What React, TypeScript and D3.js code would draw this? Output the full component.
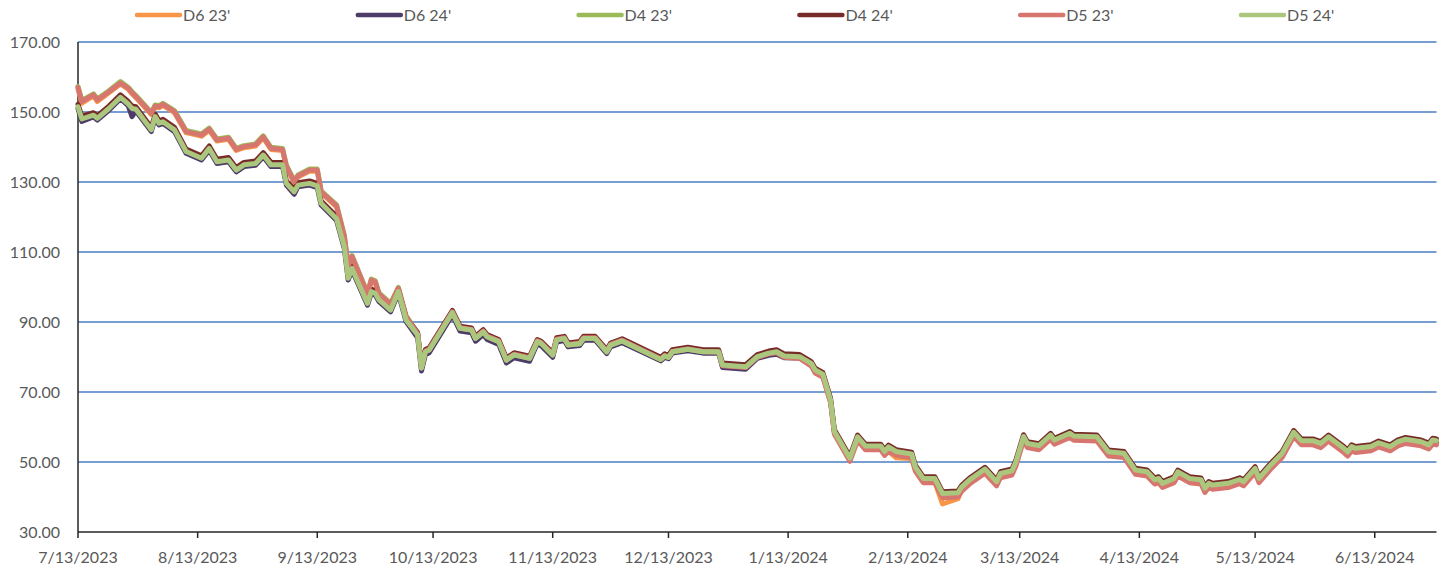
import React, { useEffect, useRef } from "react";
import * as d3 from "d3";

// trading dates
const dates = [
  "2023-07-13", "2023-07-14", "2023-07-17", "2023-07-18", "2023-07-21", "2023-07-24", "2023-07-26", "2023-07-27", "2023-07-28",
  "2023-08-01", "2023-08-02", "2023-08-03", "2023-08-04", "2023-08-07", "2023-08-10", "2023-08-14", "2023-08-16", "2023-08-18",
  "2023-08-21", "2023-08-23", "2023-08-25", "2023-08-28", "2023-08-30", "2023-09-01", "2023-09-04", "2023-09-05", "2023-09-07",
  "2023-09-08", "2023-09-11", "2023-09-13", "2023-09-14", "2023-09-18", "2023-09-20", "2023-09-21", "2023-09-22", "2023-09-26",
  "2023-09-27", "2023-09-28", "2023-09-29", "2023-10-02", "2023-10-04", "2023-10-06", "2023-10-09", "2023-10-10", "2023-10-11",
  "2023-10-12", "2023-10-18", "2023-10-20", "2023-10-23", "2023-10-24", "2023-10-26", "2023-10-27", "2023-10-30", "2023-11-01",
  "2023-11-03", "2023-11-07", "2023-11-09", "2023-11-10", "2023-11-13", "2023-11-14", "2023-11-16", "2023-11-17", "2023-11-20",
  "2023-11-21", "2023-11-24", "2023-11-27", "2023-11-28", "2023-12-01", "2023-12-11", "2023-12-12", "2023-12-13", "2023-12-14",
  "2023-12-18", "2023-12-22", "2023-12-26", "2023-12-27", "2024-01-02", "2024-01-05", "2024-01-08", "2024-01-10", "2024-01-12",
  "2024-01-16", "2024-01-19", "2024-01-20", "2024-01-22", "2024-01-24", "2024-01-25", "2024-01-29", "2024-01-31", "2024-02-02",
  "2024-02-06", "2024-02-07", "2024-02-08", "2024-02-10", "2024-02-14", "2024-02-15", "2024-02-17", "2024-02-20", "2024-02-22",
  "2024-02-26", "2024-02-27", "2024-02-29", "2024-03-04", "2024-03-07", "2024-03-08", "2024-03-11", "2024-03-12", "2024-03-14",
  "2024-03-15", "2024-03-18", "2024-03-21", "2024-03-22", "2024-03-26", "2024-03-27", "2024-04-02", "2024-04-05", "2024-04-09",
  "2024-04-12", "2024-04-15", "2024-04-17", "2024-04-18", "2024-04-19", "2024-04-22", "2024-04-23", "2024-04-26", "2024-04-29",
  "2024-04-30", "2024-05-01", "2024-05-02", "2024-05-06", "2024-05-09", "2024-05-10", "2024-05-13", "2024-05-14", "2024-05-17",
  "2024-05-20", "2024-05-23", "2024-05-25", "2024-05-28", "2024-05-30", "2024-06-01", "2024-06-05", "2024-06-06", "2024-06-07",
  "2024-06-08", "2024-06-12", "2024-06-14", "2024-06-17", "2024-06-19", "2024-06-21", "2024-06-25", "2024-06-27", "2024-06-28",
  "2024-06-29",
];

const d6_23 = [
  156.6, 152.5, 154.6, 153.0, 155.5, 158.0, 156.5, 155.2, 154.1,
  149.3, 151.4, 151.2, 151.9, 149.8, 144.1, 143.1, 144.8, 141.7,
  142.2, 139.0, 139.8, 140.3, 142.6, 139.3, 139.0, 134.2, 129.8,
  131.4, 133.1, 133.1, 126.9, 122.9, 114.2, 105.7, 108.4, 97.7,
  101.7, 101.2, 97.7, 94.7, 99.3, 91.2, 86.4, 76.9, 81.6,
  82.1, 92.8, 88.3, 87.8, 85.4, 87.3, 85.9, 84.5, 79.2,
  80.7, 79.7, 84.5, 84.0, 80.7, 85.0, 85.4, 83.8, 84.2,
  85.5, 85.5, 81.6, 83.5, 84.7, 79.3, 80.3, 79.9, 81.5,
  82.2, 81.5, 81.5, 77.6, 77.1, 80.0, 81.0, 81.3, 80.1,
  79.8, 77.7, 75.8, 74.6, 67.3, 58.3, 50.6, 56.7, 54.1,
  54.1, 52.2, 53.0, 51.2, 51.0, 47.6, 44.5, 44.3, 38.0,
  39.5, 42.2, 44.3, 47.4, 43.8, 46.1, 46.9, 49.4, 56.7,
  54.7, 54.1, 57.1, 55.7, 57.6, 56.8, 56.6, 52.3, 51.9,
  47.1, 46.6, 44.3, 44.7, 43.3, 44.7, 46.6, 44.7, 44.3,
  41.9, 43.3, 42.8, 43.3, 44.4, 43.8, 47.6, 44.7, 48.5,
  51.9, 57.9, 55.5, 55.5, 54.7, 56.6, 53.3, 52.3, 53.8,
  53.3, 53.8, 54.9, 53.8, 55.2, 55.9, 55.2, 54.3, 55.7,
  55.5,
];

const d6_24 = [
  151.0, 147.3, 148.6, 147.7, 150.5, 153.8, 151.8, 148.7, 150.3,
  144.4, 148.2, 146.3, 146.7, 144.4, 138.2, 136.3, 139.1, 135.3,
  135.8, 132.9, 134.4, 134.8, 137.2, 134.4, 134.4, 129.1, 126.5,
  128.6, 129.1, 128.4, 123.4, 119.0, 111.0, 102.0, 104.8, 94.8,
  98.2, 97.7, 95.8, 92.9, 98.2, 90.1, 85.5, 76.0, 80.6,
  81.2, 92.0, 87.4, 86.9, 84.5, 86.4, 85.0, 83.6, 78.3,
  79.8, 78.8, 83.8, 83.2, 79.9, 84.3, 84.7, 82.9, 83.3,
  84.8, 84.8, 81.0, 82.9, 84.1, 78.9, 79.9, 79.5, 81.1,
  81.8, 81.1, 81.1, 77.0, 76.5, 79.6, 80.5, 80.8, 79.8,
  79.7, 77.9, 76.0, 74.8, 67.4, 58.4, 50.8, 56.9, 54.3,
  54.3, 52.7, 54.0, 52.7, 52.0, 48.2, 45.0, 45.0, 40.7,
  40.9, 42.6, 44.6, 47.7, 44.1, 46.2, 47.0, 49.7, 57.0,
  55.0, 54.4, 57.4, 56.0, 57.9, 57.1, 56.9, 52.6, 52.2,
  47.4, 46.9, 44.6, 45.0, 43.6, 45.0, 46.9, 45.0, 44.6,
  42.2, 43.6, 43.1, 43.6, 44.7, 44.1, 47.9, 45.0, 48.8,
  52.2, 58.2, 55.8, 55.8, 55.0, 56.9, 53.6, 52.6, 54.1,
  53.6, 54.1, 55.2, 54.1, 55.5, 56.2, 55.5, 54.6, 56.0,
  55.8,
];

const d4_23 = [
  157.3, 153.3, 155.2, 153.7, 156.1, 158.7, 157.1, 155.8, 154.7,
  149.9, 152.0, 151.8, 152.5, 150.4, 144.7, 143.7, 145.4, 142.3,
  142.8, 139.6, 140.4, 140.9, 143.2, 139.9, 139.6, 134.8, 130.4,
  132.0, 133.7, 133.7, 127.5, 123.5, 114.8, 106.3, 109.0, 98.3,
  102.3, 101.8, 98.3, 95.3, 99.9, 91.8, 86.8, 77.1, 81.5,
  82.0, 92.7, 88.2, 87.7, 85.3, 87.2, 85.8, 84.4, 79.1,
  80.6, 79.6, 84.4, 83.9, 80.6, 84.9, 85.3, 83.4, 83.8,
  85.3, 85.3, 81.5, 83.4, 84.6, 79.3, 80.3, 79.9, 81.5,
  82.2, 81.5, 81.5, 77.7, 77.2, 80.1, 81.1, 81.5, 80.3,
  80.1, 78.2, 76.3, 75.1, 67.7, 58.7, 51.1, 57.2, 54.6,
  54.6, 53.0, 54.3, 53.0, 52.3, 48.5, 45.3, 45.3, 41.0,
  41.2, 42.9, 44.9, 48.0, 44.4, 46.7, 47.5, 50.0, 57.3,
  55.3, 54.7, 57.7, 56.3, 58.2, 57.4, 57.2, 52.9, 52.5,
  47.7, 47.2, 44.9, 45.3, 43.9, 45.3, 47.2, 45.3, 44.9,
  42.5, 43.9, 43.4, 43.9, 45.0, 44.4, 48.2, 45.3, 49.1,
  52.5, 58.5, 56.1, 56.1, 55.3, 57.2, 53.9, 52.9, 54.4,
  53.9, 54.4, 55.5, 54.4, 55.8, 56.5, 55.8, 54.9, 56.3,
  56.1,
];

const d4_24 = [
  152.2, 148.8, 149.8, 148.9, 151.7, 154.9, 153.0, 151.7, 151.5,
  145.6, 149.4, 147.5, 147.9, 145.6, 139.4, 137.5, 140.3, 136.5,
  137.0, 134.1, 135.6, 136.0, 138.4, 135.6, 135.6, 130.3, 127.9,
  129.8, 130.3, 129.6, 124.6, 120.2, 112.2, 103.2, 106.0, 96.0,
  99.4, 98.9, 97.0, 94.1, 99.4, 91.3, 87.0, 77.4, 82.1,
  82.6, 93.3, 88.8, 88.3, 85.9, 87.8, 86.4, 85.0, 79.7,
  81.2, 80.2, 85.0, 84.5, 81.2, 85.5, 85.9, 84.0, 84.4,
  85.9, 85.9, 82.1, 84.0, 85.2, 79.9, 80.9, 80.5, 82.1,
  82.8, 82.1, 82.1, 78.3, 77.8, 80.7, 81.7, 82.1, 80.9,
  80.7, 78.7, 76.8, 75.6, 68.2, 59.2, 51.6, 57.7, 55.1,
  55.1, 53.5, 54.8, 53.5, 52.8, 49.0, 45.8, 45.8, 41.5,
  41.7, 43.4, 45.4, 48.5, 44.9, 47.2, 48.0, 50.5, 57.8,
  55.8, 55.2, 58.2, 56.8, 58.7, 57.9, 57.7, 53.4, 53.0,
  48.2, 47.7, 45.4, 45.8, 44.4, 45.8, 47.7, 45.8, 45.4,
  43.0, 44.4, 43.9, 44.4, 45.5, 44.9, 48.7, 45.8, 49.6,
  53.0, 59.0, 56.6, 56.6, 55.8, 57.7, 54.4, 53.4, 54.9,
  54.4, 54.9, 56.0, 54.9, 56.3, 57.0, 56.3, 55.4, 56.8,
  56.6,
];

const d5_23 = [
  157.0, 153.0, 154.9, 153.4, 155.8, 158.3, 156.8, 155.5, 154.4,
  149.6, 151.7, 151.5, 152.2, 150.1, 144.4, 143.4, 145.1, 142.0,
  142.5, 139.3, 140.1, 140.6, 142.9, 139.6, 139.3, 134.5, 130.1,
  131.7, 133.4, 133.4, 127.2, 123.2, 114.5, 106.0, 108.7, 98.0,
  102.0, 101.5, 98.0, 95.0, 99.6, 91.5, 86.6, 77.0, 81.7,
  82.2, 92.9, 88.4, 87.9, 85.5, 87.4, 86.0, 84.6, 79.3,
  80.8, 79.8, 84.6, 84.1, 80.8, 85.1, 85.5, 83.6, 84.0,
  85.5, 85.5, 81.7, 83.6, 84.8, 79.4, 80.4, 80.0, 81.6,
  82.3, 81.6, 81.4, 77.5, 77.0, 79.9, 80.9, 81.2, 79.9,
  79.6, 77.4, 75.4, 74.2, 66.9, 57.9, 50.2, 56.2, 53.5,
  53.5, 51.9, 53.2, 51.9, 51.2, 47.3, 44.1, 44.1, 39.8,
  40.0, 41.7, 43.7, 46.8, 43.2, 45.5, 46.3, 48.8, 56.1,
  54.1, 53.5, 56.5, 55.1, 57.0, 56.2, 56.0, 51.7, 51.3,
  46.5, 46.0, 43.7, 44.1, 42.7, 44.1, 46.0, 44.1, 43.7,
  41.3, 42.7, 42.2, 42.7, 43.8, 43.2, 47.0, 44.1, 47.9,
  51.3, 57.3, 54.9, 54.9, 54.1, 56.0, 52.7, 51.7, 53.2,
  52.7, 53.2, 54.3, 53.2, 54.6, 55.3, 54.6, 53.7, 55.1,
  54.9,
];

const d5_24 = [
  151.5, 148.0, 149.1, 148.2, 151.0, 154.2, 152.3, 151.0, 150.8,
  144.9, 148.7, 146.8, 147.2, 144.9, 138.7, 136.8, 139.6, 135.8,
  136.3, 133.4, 134.9, 135.3, 137.7, 134.9, 134.9, 129.6, 127.2,
  129.1, 129.6, 128.9, 123.9, 119.5, 111.5, 102.5, 105.3, 95.3,
  98.7, 98.2, 96.3, 93.4, 98.7, 90.6, 86.3, 76.8, 81.5,
  82.0, 92.7, 88.2, 87.7, 85.3, 87.2, 85.8, 84.4, 79.1,
  80.6, 79.6, 84.4, 83.9, 80.6, 84.9, 85.3, 83.4, 83.8,
  85.3, 85.3, 81.5, 83.4, 84.6, 79.3, 80.3, 79.9, 81.5,
  82.2, 81.5, 81.5, 77.7, 77.2, 80.1, 81.1, 81.5, 80.3,
  80.1, 78.2, 76.3, 75.1, 67.7, 58.7, 51.1, 57.2, 54.6,
  54.6, 53.0, 54.3, 53.0, 52.3, 48.5, 45.3, 45.3, 41.0,
  41.2, 42.9, 44.9, 48.0, 44.4, 46.7, 47.5, 50.0, 57.3,
  55.3, 54.7, 57.7, 56.3, 58.2, 57.4, 57.2, 52.9, 52.5,
  47.7, 47.2, 44.9, 45.3, 43.9, 45.3, 47.2, 45.3, 44.9,
  42.5, 43.9, 43.4, 43.9, 45.0, 44.4, 48.2, 45.3, 49.1,
  52.5, 58.5, 56.1, 56.1, 55.3, 57.2, 53.9, 52.9, 54.4,
  53.9, 54.4, 55.5, 54.4, 55.8, 56.5, 55.8, 54.9, 56.3,
  56.1,
];

const seriesNames = ["D6 23'", "D6 24'", "D4 23'", "D4 24'", "D5 23'", "D5 24'"];
const seriesValues = [d6_23, d6_24, d4_23, d4_24, d5_23, d5_24];
const seriesColors = ["#F79646", "#4D3B69", "#9BBB59", "#772C2A", "#D7756F", "#ABC77D"];

const yTicks = [30, 50, 70, 90, 110, 130, 150, 170];
const xTicks = [
  "2023-07-13", "2023-08-13", "2023-09-13", "2023-10-13", "2023-11-13", "2023-12-13",
  "2024-01-13", "2024-02-13", "2024-03-13", "2024-04-13", "2024-05-13", "2024-06-13",
];

const width = 1445;
const height = 571;
const margin = { top: 42, right: 8.5, bottom: 39, left: 78 };
const font = "Lato, 'Open Sans', sans-serif";

export default function App() {
  const ref = useRef<SVGSVGElement | null>(null);

  useEffect(() => {
    const svg = d3.select(ref.current);
    svg.selectAll("*").remove();

    const parse = d3.utcParse("%Y-%m-%d");
    const parsedDates = dates.map((d) => parse(d) as Date);

    const x = d3.scaleUtc()
      .domain([parsedDates[0], parsedDates[parsedDates.length - 1]])
      .range([margin.left, width - margin.right]);

    const y = d3.scaleLinear()
      .domain([30, 170])
      .range([height - margin.bottom, margin.top]);

    // horizontal gridlines
    svg.append("g")
      .selectAll("line")
      .data(yTicks.filter((t) => t > 30))
      .join("line")
      .attr("x1", margin.left)
      .attr("x2", width - margin.right)
      .attr("y1", (d) => y(d))
      .attr("y2", (d) => y(d))
      .attr("stroke", "#4A7EC0")
      .attr("stroke-width", 1.5);

    // y labels
    svg.append("g")
      .selectAll("text")
      .data(yTicks)
      .join("text")
      .attr("x", 60)
      .attr("y", (d) => y(d))
      .attr("dy", "0.35em")
      .attr("text-anchor", "end")
      .attr("font-family", font)
      .attr("font-size", 16)
      .attr("fill", "#595959")
      .text((d) => d3.format(".2f")(d));

    // x axis with month ticks
    const xAxis = svg.append("g").attr("transform", `translate(0, ${height - margin.bottom})`);
    xAxis.append("line")
      .attr("x1", margin.left)
      .attr("x2", width - margin.right)
      .attr("stroke", "#262626")
      .attr("stroke-width", 1.5);
    const tick = xAxis.selectAll("g.tick")
      .data(xTicks.map((d) => parse(d) as Date))
      .join("g")
      .attr("class", "tick")
      .attr("transform", (d) => `translate(${x(d)}, 0)`);
    tick.append("line").attr("y2", 6).attr("stroke", "#262626").attr("stroke-width", 1.5);
    tick.append("text")
      .attr("y", 25)
      .attr("dy", "0.35em")
      .attr("text-anchor", "middle")
      .attr("font-family", font)
      .attr("font-size", 16)
      .attr("fill", "#595959")
      .text((d) => d3.utcFormat("%-m/%-d/%Y")(d));

    // y axis line
    svg.append("line")
      .attr("x1", margin.left)
      .attr("x2", margin.left)
      .attr("y1", margin.top)
      .attr("y2", height - margin.bottom)
      .attr("stroke", "#262626")
      .attr("stroke-width", 1.5);

    // series lines, last one on top
    const line = d3.line<number>()
      .x((_, i) => x(parsedDates[i]))
      .y((v) => y(v));

    svg.append("g")
      .selectAll("path")
      .data(seriesValues)
      .join("path")
      .attr("d", (d) => line(d))
      .attr("fill", "none")
      .attr("stroke", (_, i) => seriesColors[i])
      .attr("stroke-width", 5)
      .attr("stroke-linejoin", "round")
      .attr("stroke-linecap", "round");

    // legend
    const legend = svg.append("g")
      .selectAll("g")
      .data(seriesNames)
      .join("g")
      .attr("transform", (_, i) => `translate(${137 + i * 220.8}, 15)`);
    legend.append("line")
      .attr("x2", 43)
      .attr("stroke", (_, i) => seriesColors[i])
      .attr("stroke-width", 4.5)
      .attr("stroke-linecap", "round");
    legend.append("text")
      .attr("x", 46)
      .attr("dy", "0.35em")
      .attr("font-family", font)
      .attr("font-size", 16)
      .attr("fill", "#595959")
      .text((d) => d);
  }, []);

  return (
    <svg
      ref={ref}
      width={width}
      height={height}
      style={{ position: "absolute", left: 0, top: 0, background: "#fff" }}
    />
  );
}
